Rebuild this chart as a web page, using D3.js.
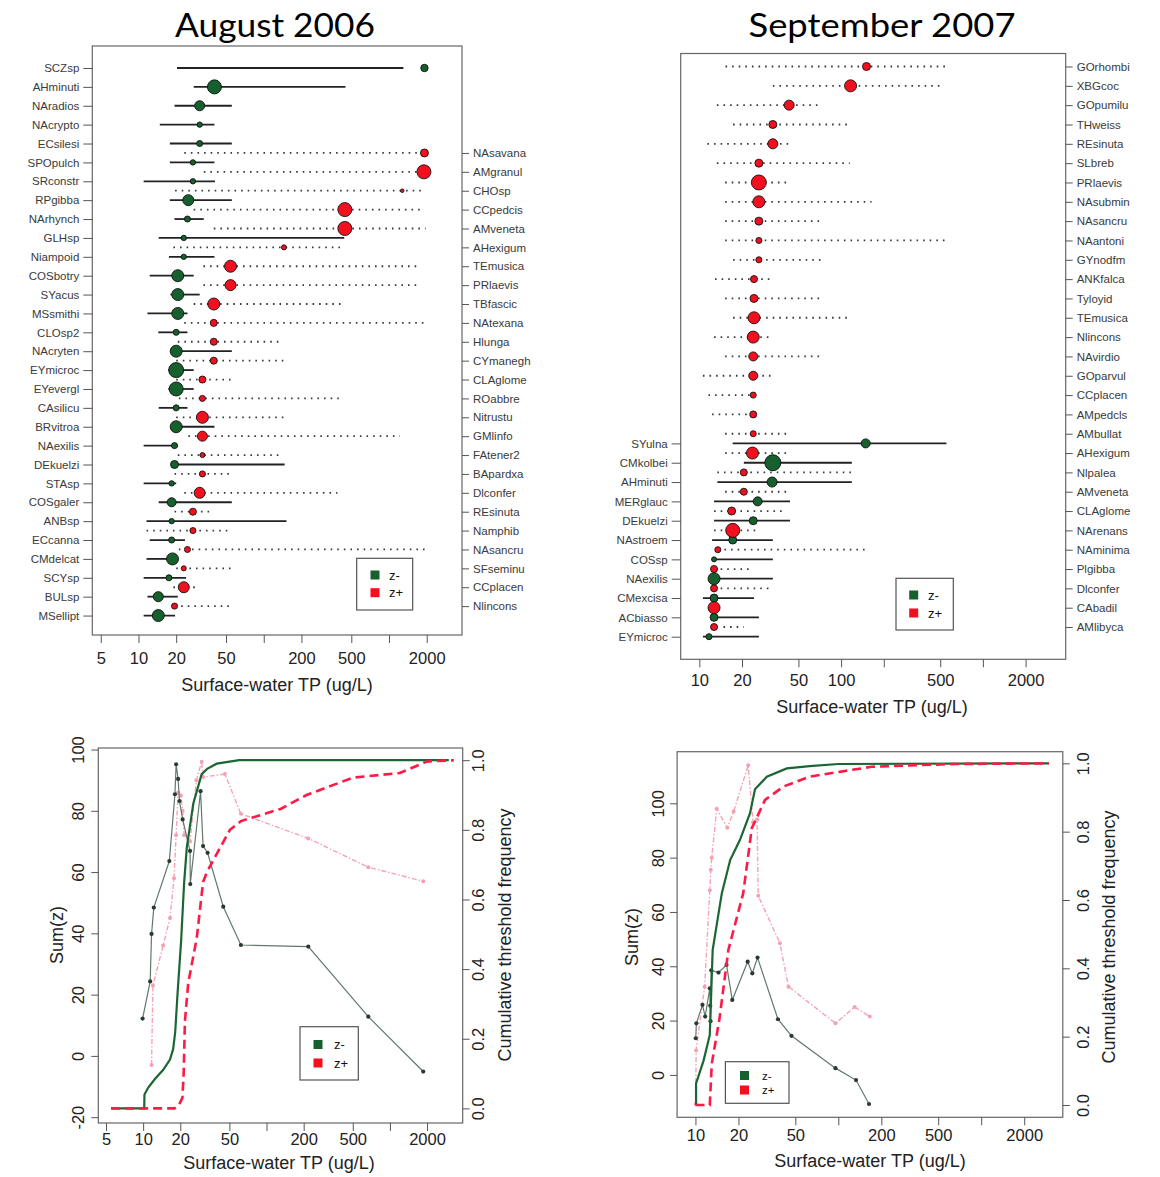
<!DOCTYPE html>
<html><head><meta charset="utf-8">
<script src="https://cdn.jsdelivr.net/npm/d3@7"></script>
<style>
body{margin:0;background:#fff}
svg{display:block}
text{font-family:"Liberation Sans",Arial,sans-serif}
</style>
</head><body>
<svg id="c" width="1160" height="1177"></svg>
<script>
// ---------------- DATA ----------------
// August 2006, z- taxa (left labels)
const aug06NegTaxa = ["SCZsp","AHminuti","NAradios","NAcrypto","ECsilesi","SPOpulch","SRconstr","RPgibba","NArhynch","GLHsp","Niampoid","COSbotry","SYacus","MSsmithi","CLOsp2","NAcryten","EYmicroc","EYevergl","CAsilicu","BRvitroa","NAexilis","DEkuelzi","STAsp","COSgaler","ANBsp","ECcanna","CMdelcat","SCYsp","BULsp","MSellipt"];
const aug06NegCp = [1918,40.4,30.8,30.8,30.8,27.2,27.2,25,24.6,23,23,20.6,20.6,20.6,20,20,20,20,20,20,19.4,19.4,18.4,18.4,18.4,18.4,18.7,17.5,14.4,14.4];
const aug06NegLo = [20.3,27.6,19.4,14.8,17.8,17.8,11,17.8,19.4,14.5,17.5,12.3,18,11.8,14.4,19,17.3,17.3,14.5,20,11,19.4,11,14.5,11.6,12.3,11.6,11,11.8,11];
const aug06NegHi = [1302,449,55.6,40.4,55.6,40.4,40.8,55.6,33.2,439,40.4,27.6,30.8,24.6,24.6,55.6,27.6,27.6,24.6,40.4,20.6,146.8,20,55.6,152,23.5,18.7,24,20.6,19.6];
const aug06NegZ  = [3.4,12.3,6.3,1.8,2.3,1.8,1.8,7.6,2.3,1.8,1.8,9,9,9,2.3,9,14.1,12.3,2.3,9,2.3,4,1.8,5.1,1.8,2.3,9,2.3,6.3,9];

// August 2006, z+ taxa (right labels)
const aug06PosTaxa = ["NAsavana","AMgranul","CHOsp","CCpedcis","AMveneta","AHexigum","TEmusica","PRlaevis","TBfascic","NAtexana","Hlunga","CYmanegh","CLAglome","ROabbre","Nitrustu","GMlinfo","FAtener2","BApardxa","Dlconfer","REsinuta","Namphib","NAsancru","SFseminu","CCplacen","Nlincons"];
const aug06PosCp = [1918,1900,1276,444,444,145,54.3,54.3,39.9,39.9,39.9,39.9,32.4,32.4,32.4,32.4,32.4,32.4,30.8,27.2,27.2,24.6,23,23,19.4];
const aug06PosLo = [23.2,33.2,19.6,27.6,39.9,19,33,33,27.6,23.2,20.6,20,20,21,20,25,20.6,19.4,23.2,19.4,11.6,21,20,19,19.4];
const aug06PosHi = [1918,1840,1920,1870,1960,418,1800,1800,449,1960,143,150,55,418,155,1222,143,55,387,39.5,52,2000,55,29.5,54];
const aug06PosZ  = [4,12.3,0.8,12.3,12.3,1.6,9,7.6,9,3.1,3.1,3.1,3.1,2.3,9,6.3,1.6,2.3,7.6,3.1,2.3,2.3,1.6,7.6,2.3];

// September 2007, z+ taxa (right labels)
const sep07PosTaxa = ["GOrhombi","XBGcoc","GOpumilu","THweiss","REsinuta","SLbreb","PRlaevis","NAsubmin","NAsancru","NAantoni","GYnodfm","ANKfalca","Tyloyid","TEmusica","Nlincons","NAvirdio","GOparvul","CCplacen","AMpedcls","AMbullat","AHexigum","Nlpalea","AMveneta","CLAglome","NArenans","NAminima","Plgibba","Dlconfer","CAbadil","AMlibyca"];
const sep07PosCp = [151,116.6,43,33,33,26.3,26.3,26.3,26.3,26.3,26.3,24.3,24.3,24.3,24,24,24,24,24,24,23.7,20.6,20.6,16.9,17.2,13.5,12.7,12.7,12.7,12.7];
const sep07PosLo = [15.3,33,13.3,17.3,11.4,13.3,15.2,15.2,15.2,15.2,17.3,12.9,15.2,17.3,12.7,15.2,10.6,11.6,12.3,15.2,15.2,13.4,15.2,12.7,12.7,13.5,12.7,12.7,12.7,14.8];
const sep07PosHi = [547,532,72,111,44,115,43.5,164,75,553,75,33.4,75,112,32.6,72.8,33,24,24,44.2,43.5,121,44,40.4,26.3,149,23.3,32.6,12.7,20.6];
const sep07PosZ  = [4,9,6.3,4,6.3,4,14,9,4,2.3,2.3,3.1,4,9,9,5.1,5.1,2.3,3.1,2.3,9,3.1,3.1,4,12.3,2.3,3.1,3.1,9,3.1];

// September 2007, z- taxa (left labels)
const sep07NegTaxa = ["SYulna","CMkolbei","AHminuti","MERglauc","DEkuelzi","NAstroem","COSsp","NAexilis","CMexcisa","ACbiasso","EYmicroc"];
const sep07NegCp = [149,33,32.6,25.8,24,17.2,12.7,12.7,12.7,12.7,11.7];
const sep07NegLo = [17.2,20.6,13.4,12.7,12.7,12.3,12.7,12.7,10.6,12.7,10.6];
const sep07NegHi = [553,119,119,43.6,43.6,33,33,33,24.3,26.3,26.3];
const sep07NegZ  = [5.1,16,6.3,5.1,4,4,1.6,9,4,4,2.3];

// Sum(z) curves, August 2006
const aug06SumNegTP = [9.9,11.4,11.7,12.2,16.3,18.1,18.5,19.2,19.7,20.9,24,24.1,29.2,30.6,33.3,44.6,62,218,668,1862];
const aug06SumNeg   = [12.2,24.3,39.8,48.4,63.6,85.4,95.2,90.4,83.2,77.2,66.9,56.1,86.4,68.5,66.3,48.7,36.2,35.7,12.8,-5.1];
const aug06SumPosTP = [11.7,12.0,14.5,16.5,17.8,18.5,19.2,20.2,20.9,21.5,24,27,29.8,30.6,46,62,218,668,1862];
const aug06SumPos   = [-3,23,36,45,58,72,86,85,80,72,70,90,96,91,92,79,71,61.6,57];
// Cumulative threshold frequency, August 2006
const aug06CumNegTP = [5.5,10.2,10.25,11,12.5,14.5,16.5,17.5,18.2,19,20.3,21.5,22.6,25.5,29.8,33,39.5,60,3000];
const aug06CumNeg   = [0,0,0.04,0.06,0.085,0.11,0.14,0.17,0.22,0.33,0.48,0.65,0.75,0.876,0.96,0.975,0.99,1.0,1.0];
const aug06CumPosTP = [5.5,18,19.5,20.8,21.3,21.8,23.2,27.2,30.6,33,38,50.5,62,130,211,503,1200,1990,3300];
const aug06CumPos   = [0,0,0.01,0.03,0.1,0.25,0.36,0.49,0.65,0.68,0.72,0.8,0.825,0.86,0.9,0.95,0.963,0.996,1.0];

// Sum(z) curves, September 2007
const sep07SumNegTP = [10.05,10.15,11.2,11.7,12.6,12.7,12.75,12.9,14.5,16.5,18.1,23.2,25,27.2,37.8,47,95.5,133,164];
const sep07SumNeg   = [13.5,19,25.8,21.5,31.9,25.5,19.8,38.5,37.7,40.5,27.6,41.7,37.4,43.2,20.5,14.4,2.5,-1.9,-10.7];
const sep07SumPosTP = [10.05,10.1,11.6,12.6,12.8,13.0,14.1,16.7,18.5,23.4,25.3,27.0,27.5,39,44.8,95.5,130,166];
const sep07SumPos   = [-10.7,9,32.5,68,75.5,80,98,91,97,114,93,94,66,48.5,32.5,19,25,21.5];
// Cumulative threshold frequency, September 2007
const sep07CumNegTP = [10.1,10.1,11.4,12.6,13.2,15.3,17.5,20.5,24.1,26.1,31.6,43.6,63,100,2980];
const sep07CumNeg   = [0,0.063,0.13,0.205,0.454,0.62,0.717,0.776,0.854,0.924,0.961,0.985,0.992,0.998,1.0];
const sep07CumPosTP = [10,12.6,13.0,14.7,17.0,21.6,24.8,30.7,41.3,63,171,650,2980];
const sep07CumPos   = [0,0,0.12,0.25,0.454,0.62,0.81,0.893,0.932,0.961,0.99,0.998,1.0];

// Tick values / labels
const ticksFrom5  = [5,10,20,50,100,200,500,1000,2000];
const ticksFrom10 = [10,20,50,100,200,500,1000,2000];
const labelsP1 = [5,10,20,50,200,500,2000];
const labelsP2 = [10,20,50,100,500,2000];
const labelsP3 = [5,10,20,50,200,500,2000];
const labelsP4 = [10,20,50,200,500,2000];
const sumTicksAug = [-20,0,20,40,60,80,100];
const sumTicksSep = [0,20,40,60,80,100];
const cumTicks = [0,0.2,0.4,0.6,0.8,1.0];
const titles = ["August 2006","September 2007"];
const xTitle = "Surface-water TP (ug/L)";
const legendLabels = ["z-","z+"];

// ---------------- DRAWING ----------------
const svg = d3.select('#c');
const GREEN = '#16602e', RED = '#f2101f';
const rScale = d3.scaleSqrt().domain([0,16]).range([0,8]);

function styleAxis(ax, size){
  ax.select('.domain').remove();
  ax.selectAll('.tick line').attr('stroke','#555').attr('stroke-width',1);
  ax.selectAll('text').attr('fill','#222').style('font-size',size+'px')
    .style('font-family','"Liberation Sans",Arial,sans-serif');
}

function legend(l,t,r,b,sqx,sy1,sy2,tx,fs){
  const g = svg.append('g');
  g.append('rect').attr('x',l).attr('y',t).attr('width',r-l).attr('height',b-t)
    .attr('fill','#fff').attr('stroke','#555').attr('stroke-width',1.2);
  [[sy1,GREEN,legendLabels[0]],[sy2,RED,legendLabels[1]]].forEach(([yy,c,lab])=>{
    g.append('rect').attr('x',sqx-4.5).attr('y',yy-4.5).attr('width',9).attr('height',9).attr('fill',c);
    g.append('text').attr('x',tx).attr('y',yy).attr('dy','0.35em').style('font-size',fs+'px')
      .attr('fill','#111').text(lab);
  });
}

function xAxisBottom(x, b, ticks, shown, labelBaseline, titleX, titleY){
  const ax = svg.append('g').attr('transform',`translate(0,${b})`)
    .call(d3.axisBottom(x).tickValues(ticks).tickFormat(d=>shown.includes(d)?String(d):'').tickSize(8).tickPadding(6));
  styleAxis(ax,16.5);
  ax.selectAll('text').attr('dy',null).attr('y',labelBaseline - b);
  svg.append('text').attr('x',titleX).attr('y',titleY).attr('text-anchor','middle')
    .style('font-size','18px').attr('fill','#222').text(xTitle);
}

function taxaPanel(p){
  const x = d3.scaleLog().domain(p.xDomain).range([p.l,p.r]);
  const y = d3.scaleLinear().domain(p.yDomain).range([p.t,p.b]);
  svg.append('rect').attr('x',p.l).attr('y',p.t).attr('width',p.r-p.l).attr('height',p.b-p.t)
    .attr('fill','none').attr('stroke','#666').attr('stroke-width',1.2);
  xAxisBottom(x,p.b,p.ticks,p.shown,p.tickBase,p.titleX,p.titleY);

  const mk = (s)=> s.taxa.map((t,i)=>({t,k:i+s.off,cp:s.cp[i],lo:s.lo[i],hi:s.hi[i],z:s.z[i]}));
  const neg = mk(p.neg), pos = mk(p.pos);

  function sideAxis(data, side){
    const gen = side==='left' ? d3.axisLeft(y) : d3.axisRight(y);
    const names = new Map(data.map(d=>[d.k,d.t]));
    const ax = svg.append('g').attr('transform',`translate(${side==='left'?p.l:p.r},0)`)
      .call(gen.tickValues(data.map(d=>d.k)).tickFormat(k=>names.get(k)).tickSize(side==='left'?9:7).tickPadding(4));
    styleAxis(ax,11.5);
    ax.selectAll('text').attr('fill','#3a3a3a');
  }
  sideAxis(neg,p.negSide); sideAxis(pos,p.posSide);

  const g = svg.append('g');
  g.selectAll('line.pos').data(pos).join('line')
    .attr('x1',d=>x(d.lo)).attr('x2',d=>x(d.hi)).attr('y1',d=>y(d.k)).attr('y2',d=>y(d.k))
    .attr('stroke','#3a3a3a').attr('stroke-width',1.8).attr('stroke-dasharray','1.6,5');
  g.selectAll('line.neg').data(neg).join('line')
    .attr('x1',d=>x(d.lo)).attr('x2',d=>x(d.hi)).attr('y1',d=>y(d.k)).attr('y2',d=>y(d.k))
    .attr('stroke','#222').attr('stroke-width',1.8);
  g.selectAll('circle.neg').data(neg).join('circle')
    .attr('cx',d=>x(d.cp)).attr('cy',d=>y(d.k)).attr('r',d=>rScale(d.z))
    .attr('fill',GREEN).attr('stroke','#111').attr('stroke-width',0.9);
  g.selectAll('circle.pos').data(pos).join('circle')
    .attr('cx',d=>x(d.cp)).attr('cy',d=>y(d.k)).attr('r',d=>rScale(d.z))
    .attr('fill',RED).attr('stroke','#111').attr('stroke-width',0.9);
}

function sumPanel(p){
  const x = d3.scaleLog().domain(p.xDomain).range([p.l,p.r]);
  const yS = d3.scaleLinear().domain(p.sDomain).range([p.b,p.t]);
  const yF = d3.scaleLinear().domain(p.fDomain).range([p.b,p.t]);
  svg.append('rect').attr('x',p.l).attr('y',p.t).attr('width',p.r-p.l).attr('height',p.b-p.t)
    .attr('fill','none').attr('stroke','#666').attr('stroke-width',1.2);
  xAxisBottom(x,p.b,p.ticks,p.shown,p.tickBase,p.titleX,p.titleY);

  const axL = svg.append('g').attr('transform',`translate(${p.l},0)`)
    .call(d3.axisLeft(yS).tickValues(p.sTicks).tickFormat(d=>String(d)).tickSize(7));
  styleAxis(axL,16.5);
  axL.selectAll('text').attr('x',null).attr('dy',null).attr('text-anchor','middle')
    .attr('dominant-baseline','central').attr('transform',`translate(${-p.lLabOff},0) rotate(-90)`);
  const axR = svg.append('g').attr('transform',`translate(${p.r},0)`)
    .call(d3.axisRight(yF).tickValues(cumTicks).tickFormat(d=>d.toFixed(1)).tickSize(7));
  styleAxis(axR,16.5);
  axR.selectAll('text').attr('x',null).attr('dy',null).attr('text-anchor','middle')
    .attr('dominant-baseline','central').attr('transform',`translate(${p.rLabOff},0) rotate(-90)`);
  svg.append('text').attr('transform',`translate(${p.sTitleX},${p.yTitleY}) rotate(-90)`)
    .attr('text-anchor','middle').attr('dominant-baseline','central').style('font-size','18px').attr('fill','#222').text('Sum(z)');
  svg.append('text').attr('transform',`translate(${p.fTitleX},${p.yTitleY}) rotate(-90)`)
    .attr('text-anchor','middle').attr('dominant-baseline','central').style('font-size','18px').attr('fill','#222').text('Cumulative threshold frequency');

  const g = svg.append('g');
  const pts = (a,b)=>a.map((v,i)=>[v,b[i]]);
  const lineS = d3.line().x(d=>x(d[0])).y(d=>yS(d[1]));
  const lineF = d3.line().x(d=>x(d[0])).y(d=>yF(d[1]));
  const sp = pts(p.sumPosTP,p.sumPos), sn = pts(p.sumNegTP,p.sumNeg);
  g.append('path').attr('d',lineS(sp)).attr('fill','none').attr('stroke','#f6a3b6')
    .attr('stroke-width',1.4).attr('stroke-dasharray','5,2,1.5,2');
  g.selectAll('circle.sp').data(sp).join('circle').attr('cx',d=>x(d[0])).attr('cy',d=>yS(d[1]))
    .attr('r',2).attr('fill','#f4a0b3');
  g.append('path').attr('d',lineS(sn)).attr('fill','none').attr('stroke','#62786a').attr('stroke-width',1.2);
  g.selectAll('circle.sn').data(sn).join('circle').attr('cx',d=>x(d[0])).attr('cy',d=>yS(d[1]))
    .attr('r',2.1).attr('fill','#2b3a30');
  g.append('path').attr('d',lineF(pts(p.cumNegTP,p.cumNeg))).attr('fill','none')
    .attr('stroke','#1c6634').attr('stroke-width',2.2);
  g.append('path').attr('d',lineF(pts(p.cumPosTP,p.cumPos))).attr('fill','none')
    .attr('stroke','#ff1a46').attr('stroke-width',2.6).attr('stroke-dasharray','9,5');
}

// Titles
svg.append('text').attr('x',275).attr('y',37).attr('text-anchor','middle')
  .style('font-family','Lato,"Open Sans",sans-serif').style('font-size','33px')
  .attr('textLength',200).attr('lengthAdjust','spacingAndGlyphs').attr('fill','#000').text(titles[0]);
svg.append('text').attr('x',882).attr('y',37).attr('text-anchor','middle')
  .style('font-family','Lato,"Open Sans",sans-serif').style('font-size','33px')
  .attr('textLength',267).attr('lengthAdjust','spacingAndGlyphs').attr('fill','#000').text(titles[1]);

// Panel 1
taxaPanel({l:92.3,r:462,t:46,b:635,xDomain:[4.28,3825],yDomain:[-1.165,30.03],
  ticks:ticksFrom5,shown:labelsP1,tickBase:664,titleX:277,titleY:691,
  neg:{taxa:aug06NegTaxa,cp:aug06NegCp,lo:aug06NegLo,hi:aug06NegHi,z:aug06NegZ,off:0},negSide:'left',
  pos:{taxa:aug06PosTaxa,cp:aug06PosCp,lo:aug06PosLo,hi:aug06PosHi,z:aug06PosZ,off:4.5},posSide:'right'});
legend(356.7,558.3,412.7,610,375,575,592.7,389,13);

// Panel 2
taxaPanel({l:680.7,r:1065.7,t:53.5,b:659.3,xDomain:[7.39,3837],yDomain:[-0.673,30.67],
  ticks:ticksFrom10,shown:labelsP2,tickBase:686,titleX:872,titleY:713,
  neg:{taxa:sep07NegTaxa,cp:sep07NegCp,lo:sep07NegLo,hi:sep07NegHi,z:sep07NegZ,off:19.5},negSide:'left',
  pos:{taxa:sep07PosTaxa,cp:sep07PosCp,lo:sep07PosLo,hi:sep07PosHi,z:sep07PosZ,off:0},posSide:'right'});
legend(896,578.3,953.3,630,913.7,595,613,928,13);

// Panel 3
sumPanel({l:98.3,r:462.7,t:748,b:1123,xDomain:[4.33,3890],sDomain:[-21.9,100.5],fDomain:[-0.042,1.035],
  ticks:ticksFrom5,shown:labelsP3,tickBase:1145,titleX:279,titleY:1169,
  sTicks:sumTicksAug,lLabOff:20,rLabOff:15,sTitleX:57,fTitleX:505,yTitleY:935,
  sumNegTP:aug06SumNegTP,sumNeg:aug06SumNeg,sumPosTP:aug06SumPosTP,sumPos:aug06SumPos,
  cumNegTP:aug06CumNegTP,cumNeg:aug06CumNeg,cumPosTP:aug06CumPosTP,cumPos:aug06CumPos});
legend(300,1026.7,358.3,1080,318,1044.5,1063,334,13);

// Panel 4
sumPanel({l:677.1,r:1062.8,t:751.7,b:1117.3,xDomain:[7.44,3725],sDomain:[-15.6,119],fDomain:[-0.036,1.034],
  ticks:ticksFrom10,shown:labelsP4,tickBase:1141,titleX:870,titleY:1167,
  sTicks:sumTicksSep,lLabOff:19,rLabOff:20,sTitleX:632,fTitleX:1109,yTitleY:937,
  sumNegTP:sep07SumNegTP,sumNeg:sep07SumNeg,sumPosTP:sep07SumPosTP,sumPos:sep07SumPos,
  cumNegTP:sep07CumNegTP,cumNeg:sep07CumNeg,cumPosTP:sep07CumPosTP,cumPos:sep07CumPos});
legend(725.4,1061.7,789,1103.3,744.5,1075.5,1090,762,11.5);
</script>
</body></html>
